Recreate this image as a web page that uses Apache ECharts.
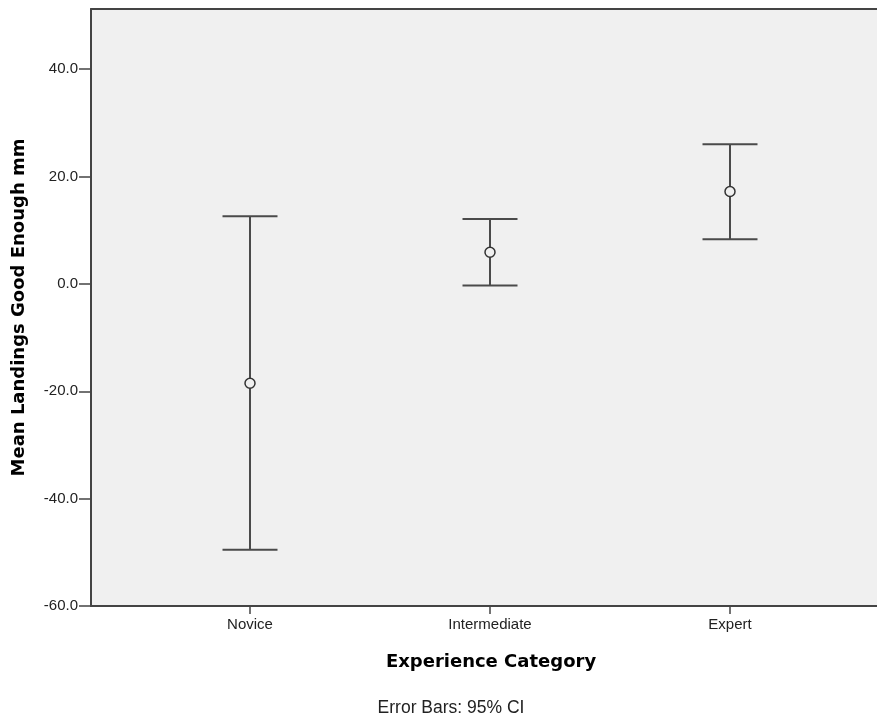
<!DOCTYPE html>
<html><head><meta charset="utf-8">
<script src="https://cdn.jsdelivr.net/npm/echarts@6/dist/echarts.min.js"></script>
<style>html,body{margin:0;padding:0;background:#fff}#c{width:877px;height:717px}</style>
</head><body><div id="c"></div>
<script>
const categories = ["Novice", "Intermediate", "Expert"];
const means = [-18.5, 5.9, 17.2];
const lowerCI = [-49.5, -0.3, 8.3];
const upperCI = [12.6, 12.1, 26.0];
const yTicks = [-60, -40, -20, 0, 20, 40];

const positions = categories.map((c, i) => i + 1);
const barData = positions.map((p, i) => [p, lowerCI[i], upperCI[i], means[i]]);

const chart = echarts.init(document.getElementById('c'), null, {renderer: 'canvas'});
const font = '"Liberation Sans", Arial, sans-serif';
const titleFont = '"DejaVu Sans", sans-serif';
chart.setOption({
  animation: false,
  backgroundColor: '#ffffff',
  grid: {left: 91, top: 9, right: 0, bottom: 111, show: true,
         backgroundColor: '#f0f0f0', borderWidth: 0},
  xAxis: [{
    type: 'value', min: 0.3375, max: 3.6125,
    name: 'Experience Category', nameLocation: 'middle', nameGap: 47,
    nameTextStyle: {fontFamily: titleFont, fontWeight: 'bold', fontSize: 18, color: '#000',
                    padding: [0, 0, 0, 14]},
    axisLine: {show: true, onZero: false, lineStyle: {color: '#444', width: 2}},
    axisTick: {show: true, length: 8, lineStyle: {color: '#444', width: 1.5}, customValues: positions},
    axisLabel: {fontFamily: font, fontSize: 15, color: '#222', margin: 11,
                customValues: positions,
                formatter: v => categories[Math.round(v) - 1] || ''},
    splitLine: {show: false}
  }, {
    type: 'value', position: 'top', min: 0.3375, max: 3.6125,
    axisLine: {show: true, onZero: false, lineStyle: {color: '#444', width: 2}},
    axisTick: {show: false}, axisLabel: {show: false}, splitLine: {show: false}
  }],
  yAxis: {
    type: 'value', min: -60, max: 51.2,
    name: 'Mean Landings Good Enough mm', nameLocation: 'middle', nameGap: 63,
    nameTextStyle: {fontFamily: titleFont, fontWeight: 'bold', fontSize: 18, color: '#000'},
    axisLine: {show: true, onZero: false, lineStyle: {color: '#444', width: 2}},
    axisTick: {show: true, length: 12, lineStyle: {color: '#444', width: 1.5}, customValues: yTicks},
    axisLabel: {fontFamily: font, fontSize: 15, color: '#222', margin: 13,
                customValues: yTicks, formatter: v => v.toFixed(1)},
    splitLine: {show: false}
  },
  title: {text: 'Error Bars: 95% CI', left: 446, textAlign: 'center', top: 694,
          textStyle: {fontFamily: font, fontWeight: 'normal', fontSize: 17.5, color: '#222'}},
  series: [{
    type: 'custom',
    data: barData,
    encode: {x: 0, y: [1, 2]},
    renderItem: function (params, api) {
      const x = api.value(0);
      const lo = api.coord([x, api.value(1)]);
      const hi = api.coord([x, api.value(2)]);
      const m = api.coord([x, api.value(3)]);
      const hw = 27.5, r = 5;
      const st = {stroke: '#4a4a4a', lineWidth: 2, fill: null};
      return {type: 'group', children: [
        {type: 'line', shape: {x1: hi[0], y1: hi[1], x2: hi[0], y2: m[1] - r}, style: st},
        {type: 'line', shape: {x1: lo[0], y1: m[1] + r, x2: lo[0], y2: lo[1]}, style: st},
        {type: 'line', shape: {x1: hi[0] - hw, y1: hi[1], x2: hi[0] + hw, y2: hi[1]}, style: st},
        {type: 'line', shape: {x1: lo[0] - hw, y1: lo[1], x2: lo[0] + hw, y2: lo[1]}, style: st},
        {type: 'circle', shape: {cx: m[0], cy: m[1], r: r}, style: {stroke: '#333', lineWidth: 1.5, fill: 'none'}}
      ]};
    }
  }]
});
</script></body></html>
